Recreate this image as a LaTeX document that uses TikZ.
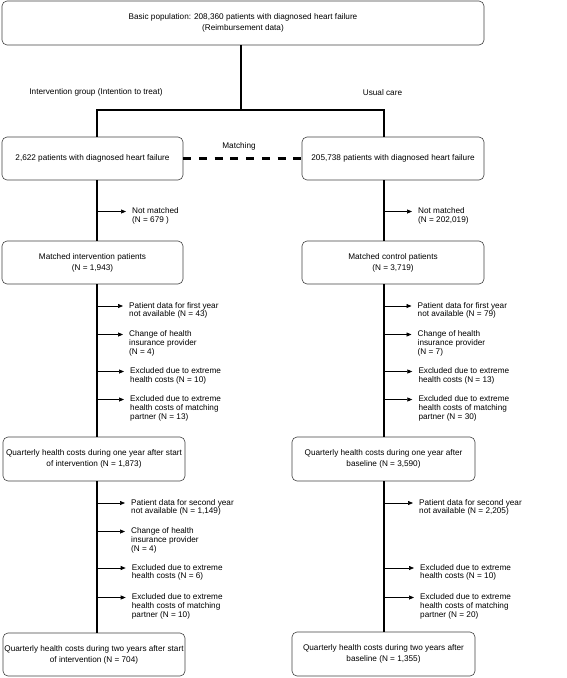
\documentclass[tikz,border=0pt]{standalone}
\usepackage{fontspec}
\setmainfont{Liberation Sans}
\usetikzlibrary{arrows.meta}
\newcommand{\exclnote}[1]{\renewcommand{\arraystretch}{0.86}%
  \begin{tabular}[t]{@{}l@{}}#1\end{tabular}}
\tikzset{
  box/.style={draw=black!75,line width=0.6pt,rounded corners=5pt,align=center,
    inner sep=0pt,font=\fontsize{8.2}{10.8}\selectfont},
  note/.style={anchor=base west,inner sep=0pt,
    font=\fontsize{8.2}{10.3}\selectfont},
  caption/.style={inner sep=0pt,font=\fontsize{8.2}{10}\selectfont},
  trunk/.style={line width=2.6pt},
  branch/.style={line width=0.7pt,-{Triangle[length=5pt,width=4pt]}},
  matchline/.style={line width=2.8pt,dash pattern=on 8pt off 7.7pt}
}
\begin{document}
\begin{tikzpicture}[x=1pt,y=-1pt]
  \useasboundingbox (0,0) rectangle (567,678);
  \node[box,minimum width=482pt,minimum height=44pt] (base) at (243,23)
  {Basic population: 208,360 patients with diagnosed heart failure\\(Reimbursement data)};
  \node[caption] (itt) at (96,92) {Intervention group (Intention to treat)};
  \node[caption] (uc) at (382.5,93) {Usual care};
  \node[caption] (match) at (239,146) {Matching};

  \node[box,minimum width=181pt,minimum height=43pt] (int) at (92.5,158.5)
  {2,622 patients with diagnosed heart failure};
  \node[box,minimum width=182pt,minimum height=43pt] (usu) at (393,158.5)
  {205,738 patients with diagnosed heart failure};
  \node[box,minimum width=181pt,minimum height=43pt] (mint) at (92.5,262.5)
  {Matched intervention patients\\(N = 1,943)};
  \node[box,minimum width=182pt,minimum height=43pt] (mcon) at (393,262.5)
  {Matched control patients\\(N = 3,719)};
  \node[box,minimum width=182pt,minimum height=44pt] (oneint) at (94,459)
  {Quarterly health costs during one year after start\\of intervention (N = 1,873)};
  \node[box,minimum width=183pt,minimum height=44pt] (onecon) at (383.5,459)
  {Quarterly health costs during one year after\\baseline (N = 3,590)};
  \node[box,minimum width=182pt,minimum height=43pt] (twoint) at (94,654.5)
  {Quarterly health costs during two years after start\\of intervention (N = 704)};
  \node[box,minimum width=183pt,minimum height=44pt] (twocon) at (383.5,654)
  {Quarterly health costs during two years after\\baseline (N = 1,355)};

  \coordinate (lx) at (97,0);
  \coordinate (rx) at (384,0);
  \coordinate (split) at (241,110);

  \node[note] (lnm) at (132,213.5) {\exclnote{Not matched\\(N = 679 )}};
  \node[note] (rnm) at (418,213.5) {\exclnote{Not matched\\(N = 202,019)}};

  \node[note] (la1) at (129,308) {\exclnote{Patient data for first year\\not available (N = 43)}};
  \node[note] (la2) at (129,336.5) {\exclnote{Change of health\\insurance provider\\(N = 4)}};
  \node[note] (la3) at (130,373.5) {\exclnote{Excluded due to extreme\\health costs (N = 10)}};
  \node[note] (la4) at (130,401.5) {\exclnote{Excluded due to extreme\\health costs of matching\\partner (N = 13)}};
  \node[note] (ra1) at (417.5,308) {\exclnote{Patient data for first year\\not available (N = 79)}};
  \node[note] (ra2) at (417.5,336.5) {\exclnote{Change of health\\insurance provider\\(N = 7)}};
  \node[note] (ra3) at (418.3,373.5) {\exclnote{Excluded due to extreme\\health costs (N = 13)}};
  \node[note] (ra4) at (418.3,401.5) {\exclnote{Excluded due to extreme\\health costs of matching\\partner (N = 30)}};

  \node[note] (lb1) at (131,505) {\exclnote{Patient data for second year\\not available (N = 1,149)}};
  \node[note] (lb2) at (131,533.5) {\exclnote{Change of health\\insurance provider\\(N = 4)}};
  \node[note] (lb3) at (131.7,570) {\exclnote{Excluded due to extreme\\health costs (N = 6)}};
  \node[note] (lb4) at (131.7,599.5) {\exclnote{Excluded due to extreme\\health costs of matching\\partner (N = 10)}};
  \node[note] (rb1) at (419,505) {\exclnote{Patient data for second year\\not available (N = 2,205)}};
  \node[note] (rb3) at (420,570) {\exclnote{Excluded due to extreme\\health costs (N = 10)}};
  \node[note] (rb4) at (420,599.5) {\exclnote{Excluded due to extreme\\health costs of matching\\partner (N = 20)}};

  \draw[trunk] (base.south -| split) -- (split);
  \draw[trunk] (int.north -| lx) |- (split) -| (usu.north -| rx);
  \draw[matchline] (int.east) -- (usu.west);
  \draw[trunk] (int.south -| lx) -- (mint.north -| lx);
  \draw[trunk] (usu.south -| rx) -- (mcon.north -| rx);
  \draw[trunk] (mint.south -| lx) -- (oneint.north -| lx);
  \draw[trunk] (mcon.south -| rx) -- (onecon.north -| rx);
  \draw[trunk] (oneint.south -| lx) -- (twoint.north -| lx);
  \draw[trunk] (onecon.south -| rx) -- (twocon.north -| rx);

  \draw[branch] ([yshift=2pt]lnm.base west -| lx) -- ([shift={(-6pt,2pt)}]lnm.base west);
  \draw[branch] ([yshift=2pt]rnm.base west -| rx) -- ([shift={(-6pt,2pt)}]rnm.base west);
  \draw[branch] ([yshift=2pt]la1.base west -| lx) -- ([shift={(-6pt,2pt)}]la1.base west);
  \draw[branch] ([yshift=2pt]la2.base west -| lx) -- ([shift={(-6pt,2pt)}]la2.base west);
  \draw[branch] ([yshift=2pt]la3.base west -| lx) -- ([shift={(-6pt,2pt)}]la3.base west);
  \draw[branch] ([yshift=2pt]la4.base west -| lx) -- ([shift={(-6pt,2pt)}]la4.base west);
  \draw[branch] ([yshift=2pt]ra1.base west -| rx) -- ([shift={(-6pt,2pt)}]ra1.base west);
  \draw[branch] ([yshift=2pt]ra2.base west -| rx) -- ([shift={(-6pt,2pt)}]ra2.base west);
  \draw[branch] ([yshift=2pt]ra3.base west -| rx) -- ([shift={(-6pt,2pt)}]ra3.base west);
  \draw[branch] ([yshift=2pt]ra4.base west -| rx) -- ([shift={(-6pt,2pt)}]ra4.base west);
  \draw[branch] ([yshift=2pt]lb1.base west -| lx) -- ([shift={(-6pt,2pt)}]lb1.base west);
  \draw[branch] ([yshift=2pt]lb2.base west -| lx) -- ([shift={(-6pt,2pt)}]lb2.base west);
  \draw[branch] ([yshift=2pt]lb3.base west -| lx) -- ([shift={(-6pt,2pt)}]lb3.base west);
  \draw[branch] ([yshift=2pt]lb4.base west -| lx) -- ([shift={(-6pt,2pt)}]lb4.base west);
  \draw[branch] ([yshift=2pt]rb1.base west -| rx) -- ([shift={(-6pt,2pt)}]rb1.base west);
  \draw[branch] ([yshift=2pt]rb3.base west -| rx) -- ([shift={(-6pt,2pt)}]rb3.base west);
  \draw[branch] ([yshift=2pt]rb4.base west -| rx) -- ([shift={(-6pt,2pt)}]rb4.base west);
\end{tikzpicture}
\end{document}
